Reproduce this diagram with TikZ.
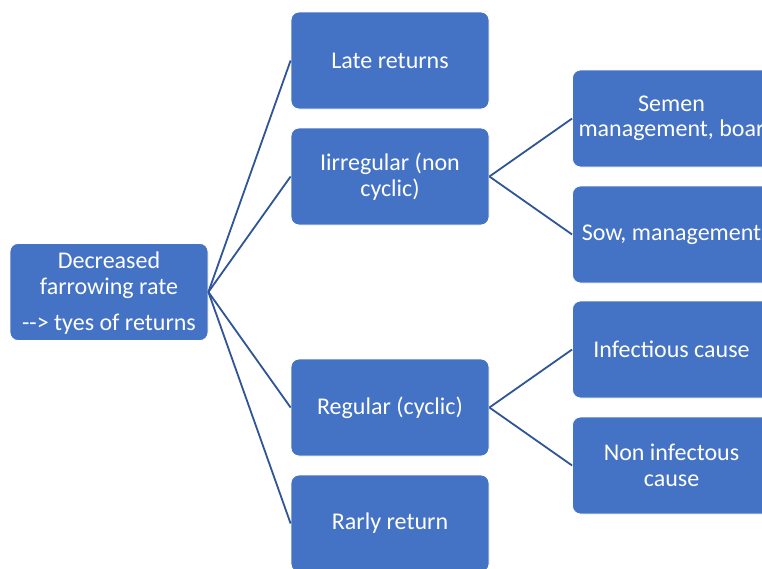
\documentclass[tikz,border=0pt]{standalone}
\usepackage{fontspec}
\setmainfont{Carlito}
\definecolor{boxblue}{RGB}{68,114,196}
\definecolor{linkblue}{RGB}{47,85,151}
\tikzset{
  box/.style={rectangle, rounded corners=8pt, fill=boxblue, draw=white, line width=0.8pt,
    minimum width=198pt, minimum height=97pt, inner sep=0pt, text=white, align=center,
    font=\fontsize{24}{25.5}\selectfont},
  lbl/.style={text=white, anchor=base, inner sep=0pt, font=\fontsize{24}{25.5}\selectfont},
  link/.style={draw=linkblue, line width=1.8pt}
}
\begin{document}
\begin{tikzpicture}[x=1pt,y=-1pt]
\useasboundingbox (0,0) rectangle (762,568);
\clip (0,0) rectangle (762,568);
\fill[white] (0,0) rectangle (762,568);
% root
\node[box] (root) at (109,292) {};
\node[lbl] (r1) at (109,268) {Decreased};
\node[lbl] (r2) at (109,294) {farrowing rate};
\node[lbl] (r3) at (109,330) {\mbox{-}\mbox{-}> tyes of returns};
% middle column
\node[box] (late) at (390,60.5) {Late returns};
\node[box] (irr) at (390,176.5) {Iirregular (non\\cyclic)};
\node[box] (reg) at (390,407.5) {Regular (cyclic)};
\node[box] (early) at (390,523.5) {Rarly return};
% right column
\node[box] (semen) at (671.5,118.5) {Semen\\management, boar};
\node[box] (sow) at (671.5,234.5) {Sow, management};
\node[box] (inf) at (671.5,349.5) {Infectious cause};
\node[box] (noninf) at (671.5,465.5) {Non infectous\\cause};
% connectors
\draw[link] (root.east) -- (late.west);
\draw[link] (root.east) -- (irr.west);
\draw[link] (root.east) -- (reg.west);
\draw[link] (root.east) -- (early.west);
\draw[link] (irr.east) -- (semen.west);
\draw[link] (irr.east) -- (sow.west);
\draw[link] (reg.east) -- (inf.west);
\draw[link] (reg.east) -- (noninf.west);
\end{tikzpicture}
\end{document}
